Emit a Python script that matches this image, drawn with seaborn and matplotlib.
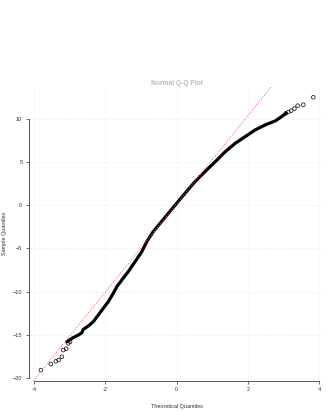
import matplotlib
matplotlib.use("Agg")
import matplotlib.pyplot as plt
import seaborn as sns
import pandas as pd

# ---- data ----
# dense central band of the Q-Q curve (theoretical, sample)
band_theoretical = [-3.08, -2.94, -2.76, -2.66, -2.62, -2.48, -2.34, -2.20, -2.06,
                    -1.92, -1.78, -1.68, -1.54, -1.36, -1.17, -0.98, -0.84, -0.66,
                    -0.28, 0.05, 0.19, 0.51, 0.79, 1.08, 1.36, 1.64, 1.92, 2.20,
                    2.48, 2.76, 2.94, 3.06]
band_sample = [-15.83, -15.43, -15.05, -14.78, -14.39, -14.00, -13.50, -12.72, -11.95,
               -11.18, -10.21, -9.44, -8.66, -7.70, -6.54, -5.38, -4.21, -3.05,
               -1.15, 0.50, 1.20, 2.75, 3.91, 5.07, 6.23, 7.21, 7.98, 8.76,
               9.34, 9.80, 10.30, 10.69]

# isolated tail points
tail_theoretical = [-3.81, -3.53, -3.39, -3.31, -3.22, -3.18, -3.10, -3.04, -2.99,
                    3.06, 3.13, 3.21, 3.30, 3.39, 3.55, 3.83]
tail_sample = [-19.11, -18.41, -18.10, -17.95, -17.57, -16.79, -16.64, -16.01, -15.83,
               10.69, 10.84, 10.99, 11.23, 11.58, 11.69, 12.55]

# reference (qqline) parameters
line_intercept = 0.2
line_slope = 5.12

x_ticks = [-4, -2, 0, 2, 4]
y_ticks = [-20, -15, -10, -5, 0, 5, 10]

title_text = "Normal Q-Q Plot"
x_label = "Theoretical Quantiles"
y_label = "Sample Quantiles"

# ---- plotting ----
sns.set_theme(style="white")
plt.rcParams["font.family"] = ["Liberation Sans", "DejaVu Sans"]

band_df = pd.DataFrame({"x": band_theoretical, "y": band_sample})
tail_df = pd.DataFrame({"x": tail_theoretical, "y": tail_sample})

fig = plt.figure(figsize=(3.27, 4.11), dpi=100)
ax = fig.add_axes([0.0878, 0.073, 0.9052, 0.7165])

ax.set_xlim(-4.15, 4.15)
ax.set_ylim(-20.38, 13.8)

ax.set_xticks(x_ticks)
ax.set_yticks(y_ticks)
ax.grid(True, color="#ececec", linewidth=0.5, linestyle=(0, (3, 3)))
ax.set_axisbelow(True)

sns.lineplot(data=band_df, x="x", y="y", sort=False, estimator=None,
             color="black", linewidth=2.3, ax=ax)
ax.lines[-1].set_solid_capstyle("round")
ax.lines[-1].set_solid_joinstyle("round")
sns.scatterplot(data=tail_df, x="x", y="y", ax=ax, s=7, marker="o",
                facecolors="none", edgecolor="black", linewidth=0.5)

ax.axline((0, line_intercept), slope=line_slope, color="#ff5a5a",
          linestyle=(0, (1, 1.5)), linewidth=0.7)

for s in ["top", "right"]:
    ax.spines[s].set_visible(False)
for s in ["left", "bottom"]:
    ax.spines[s].set_color("#555555")
    ax.spines[s].set_linewidth(0.7)
ax.spines["left"].set_bounds(-20, 10)
ax.spines["bottom"].set_bounds(-4, 4)

ax.tick_params(axis="both", which="major", direction="out", length=2.4, width=0.6,
               color="#555555", labelsize=4, labelcolor="#333333", pad=2.2,
               bottom=True, left=True)
ax.set_xticklabels([str(t) for t in x_ticks])
ax.set_yticklabels([str(t).replace("-", "\u2212") for t in y_ticks])

ax.set_xlabel(x_label, fontsize=4, color="#333333")
ax.set_ylabel(y_label, fontsize=4, color="#333333")
ax.xaxis.set_label_coords(0.5, -0.078)
ax.yaxis.set_label_coords(-0.0743, 0.5)
ax.set_title(title_text, fontsize=4.8, fontweight="bold", color="#bbbbbb", pad=1.0)

fig.savefig("out.png", dpi=100)
